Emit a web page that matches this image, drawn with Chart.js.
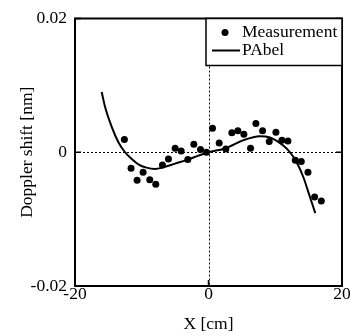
<!DOCTYPE html>
<html>
<head>
<meta charset="utf-8">
<script src="https://cdn.jsdelivr.net/npm/chart.js@4/dist/chart.umd.min.js"></script>
<style>
html,body{margin:0;padding:0;background:#fff;}
#wrap{width:350px;height:336px;position:relative;}
</style>
</head>
<body>
<div id="wrap"><canvas id="c" width="350" height="336"></canvas></div>
<script>
// Measured points
const measX = [-12.6,-11.6,-10.7,-9.8,-8.8,-7.9,-6.9,-6.0,-5.0,-4.1,-3.1,-2.2,-1.2,-0.3,0.6,1.6,2.6,3.5,4.4,5.3,6.3,7.1,8.1,9.1,10.1,11.0,11.9,13.0,13.9,14.9,15.9,16.9];
const measY = [0.0019,-0.0024,-0.0042,-0.0030,-0.0041,-0.0048,-0.0019,-0.0010,0.0006,0.0002,-0.0011,0.0012,0.0004,0.0000,0.0036,0.0014,0.0005,0.0029,0.0032,0.0027,0.0006,0.0043,0.0032,0.0016,0.0030,0.0018,0.0017,-0.0012,-0.0014,-0.0030,-0.0067,-0.0073];
// PAbel curve
const pabelX = [-16.0,-15.5,-14.5,-13.5,-12.5,-11.5,-10.5,-9.3,-8.0,-6.9,-5.0,-3.1,-1.5,0,2.6,5.2,7.7,9.2,11.2,12.2,13.2,14.2,15.2,16.0];
const pabelY = [0.0090,0.0068,0.0038,0.0015,0.0000,-0.0010,-0.0018,-0.0023,-0.0025,-0.0023,-0.0017,-0.0011,-0.0005,0.0000,0.0006,0.0018,0.0024,0.0022,0.0010,0.0000,-0.0015,-0.0037,-0.0067,-0.0091];
const xTicks = [-20,0,20];
const yTicks = [-0.02,0,0.02];
const seriesNames = ['Measurement','PAbel'];
const xTitle = 'X [cm]';
const yTitle = 'Doppler shift [nm]';

const FONT = 'Liberation Serif';
const FS = 17.5;

const framePlugin = {
  id: 'frame',
  afterDatasetsDraw(chart) {
    const ctx = chart.ctx, a = chart.chartArea;
    const xs = chart.scales.x, ys = chart.scales.y;
    ctx.save();
    // zero dotted lines
    ctx.strokeStyle = '#000';
    ctx.lineWidth = 1;
    ctx.setLineDash([2,2]);
    const x0 = Math.round(xs.getPixelForValue(0)) + 0.5;
    const y0 = Math.round(ys.getPixelForValue(0)) + 0.5;
    ctx.beginPath();
    ctx.moveTo(x0, a.top); ctx.lineTo(x0, a.bottom);
    ctx.moveTo(a.left, y0); ctx.lineTo(a.right, y0);
    ctx.stroke();
    ctx.setLineDash([]);
    // inward tick marks
    ctx.lineWidth = 1.5;
    ctx.beginPath();
    xTicks.forEach(v => {
      const px = xs.getPixelForValue(v);
      ctx.moveTo(px, a.bottom); ctx.lineTo(px, a.bottom - 6);
      ctx.moveTo(px, a.top); ctx.lineTo(px, a.top + 6);
    });
    yTicks.forEach(v => {
      const py = ys.getPixelForValue(v);
      ctx.moveTo(a.left, py); ctx.lineTo(a.left + 6, py);
      ctx.moveTo(a.right, py); ctx.lineTo(a.right - 6, py);
    });
    ctx.stroke();
    // frame
    ctx.lineWidth = 2;
    ctx.strokeRect(a.left, a.top, a.right - a.left, a.bottom - a.top);
    // legend
    const lx = 206, ly = a.top, lw = a.right - 206, lh = 47;
    ctx.fillStyle = '#fff';
    ctx.fillRect(lx, ly, lw, lh);
    ctx.lineWidth = 1.5;
    ctx.strokeRect(lx, ly, lw, lh);
    ctx.fillStyle = '#000';
    ctx.beginPath();
    ctx.arc(225, ly + 14, 3.5, 0, Math.PI * 2);
    ctx.fill();
    ctx.lineWidth = 2;
    ctx.beginPath();
    ctx.moveTo(212, ly + 32); ctx.lineTo(240, ly + 32);
    ctx.stroke();
    ctx.font = FS + 'px "' + FONT + '"';
    ctx.textBaseline = 'middle';
    ctx.textAlign = 'left';
    ctx.fillText(chart.data.datasets[0].label, 242, ly + 14);
    ctx.fillText(chart.data.datasets[1].label, 242, ly + 32);
    ctx.restore();
  }
};

new Chart(document.getElementById('c'), {
  type: 'scatter',
  data: {
    datasets: [
      {
        label: seriesNames[0],
        data: measX.map((x, i) => ({x: x, y: measY[i]})),
        pointRadius: 3.5,
        pointBackgroundColor: '#000',
        pointBorderWidth: 0,
        showLine: false
      },
      {
        label: seriesNames[1],
        data: pabelX.map((x, i) => ({x: x, y: pabelY[i]})),
        showLine: true,
        pointRadius: 0,
        borderColor: '#000',
        borderWidth: 2,
        cubicInterpolationMode: 'monotone',
        fill: false
      }
    ]
  },
  options: {
    responsive: false,
    animation: false,
    events: [],
    layout: {padding: {top: 18, right: 8, left: 0, bottom: 0}},
    plugins: {legend: {display: false}, tooltip: {enabled: false}},
    scales: {
      x: {
        type: 'linear', min: -20, max: 20,
        afterBuildTicks: s => { s.ticks = xTicks.map(v => ({value: v})); },
        afterFit: s => { s.height = 50; },
        grid: {display: false, drawTicks: false},
        border: {display: false},
        ticks: {color: '#000', font: {family: FONT, size: FS}, padding: -2, maxRotation: 0, autoSkip: false,
                callback: v => String(v)},
        title: {display: true, text: xTitle, color: '#000', font: {family: FONT, size: FS}, padding: {top: 0, bottom: 1}}
      },
      y: {
        type: 'linear', min: -0.02, max: 0.02,
        afterBuildTicks: s => { s.ticks = yTicks.map(v => ({value: v})); },
        afterFit: s => { s.width = 75; },
        grid: {display: false, drawTicks: false},
        border: {display: false},
        ticks: {color: '#000', font: {family: FONT, size: FS}, padding: 8, autoSkip: false,
                callback: v => (Math.abs(v) < 1e-9 ? '0' : v.toFixed(2))},
        title: {display: true, text: yTitle, color: '#000', font: {family: FONT, size: FS}, padding: {top: 17, bottom: 0}}
      }
    }
  },
  plugins: [framePlugin]
});
</script>
</body>
</html>
